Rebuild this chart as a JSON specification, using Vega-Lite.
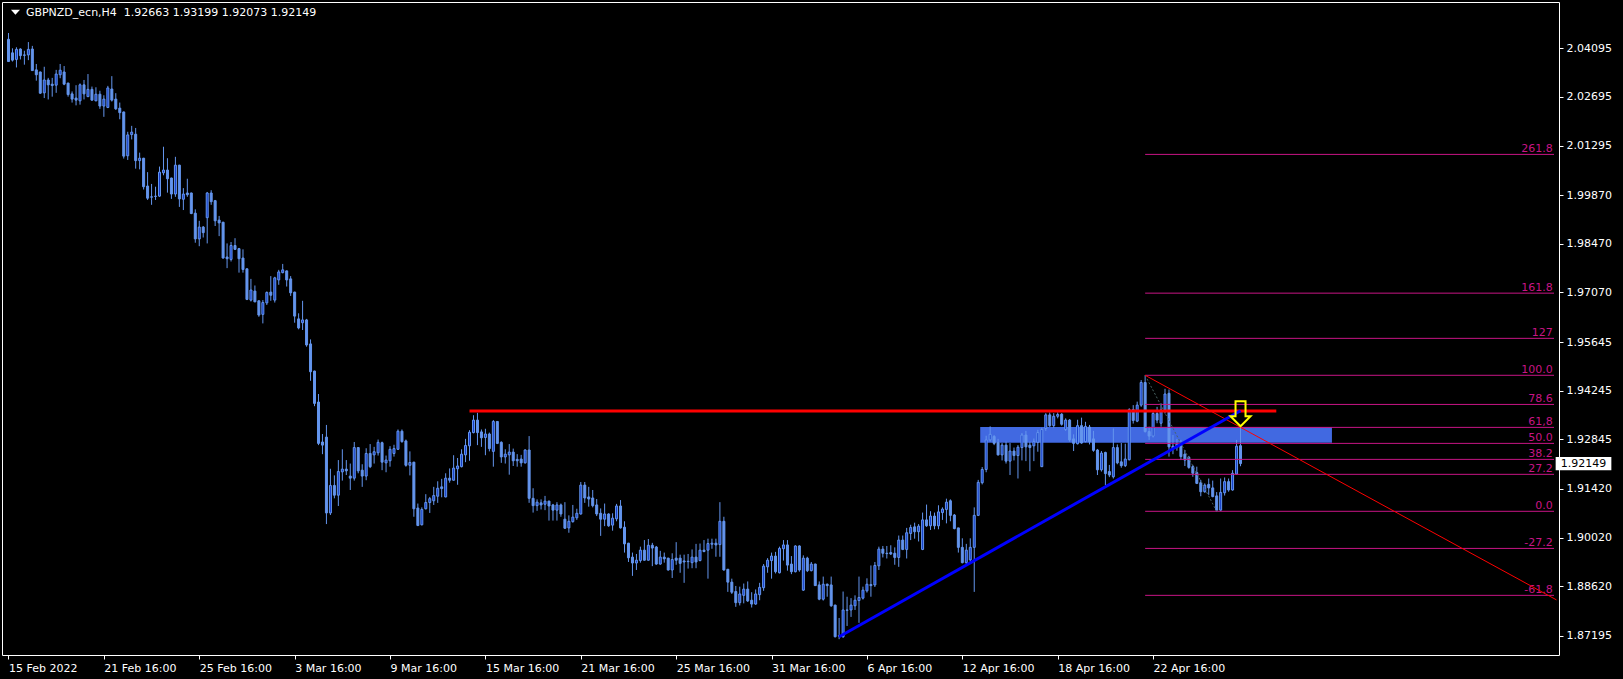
{
"$schema": "https://vega.github.io/schema/vega-lite/v6.json",
"width": 1557, "height": 653,
"autosize": {"type": "none"},
"padding": {"left": 2, "top": 2, "right": 64, "bottom": 24},
"background": "#000000",
"config": {"view": {"stroke": "#ffffff", "strokeWidth": 1}, "font": "DejaVu Sans"},
"datasets": {
"candles": [
{"i":0,"o":2.0435,"h":2.0453,"l":2.0370,"c":2.0371},
{"i":1,"o":2.0396,"h":2.0409,"l":2.0371,"c":2.0375},
{"i":2,"o":2.0377,"h":2.0412,"l":2.0354,"c":2.0406},
{"i":3,"o":2.0407,"h":2.0409,"l":2.0377,"c":2.0388},
{"i":4,"o":2.0390,"h":2.0402,"l":2.0362,"c":2.0389},
{"i":5,"o":2.0390,"h":2.0427,"l":2.0375,"c":2.0406},
{"i":6,"o":2.0407,"h":2.0416,"l":2.0344,"c":2.0345},
{"i":7,"o":2.0347,"h":2.0364,"l":2.0316,"c":2.0333},
{"i":8,"o":2.0341,"h":2.0342,"l":2.0278,"c":2.0280},
{"i":9,"o":2.0281,"h":2.0356,"l":2.0266,"c":2.0318},
{"i":10,"o":2.0318,"h":2.0324,"l":2.0262,"c":2.0304},
{"i":11,"o":2.0306,"h":2.0324,"l":2.0270,"c":2.0302},
{"i":12,"o":2.0303,"h":2.0347,"l":2.0281,"c":2.0335},
{"i":13,"o":2.0333,"h":2.0364,"l":2.0323,"c":2.0346},
{"i":14,"o":2.0341,"h":2.0358,"l":2.0303,"c":2.0306},
{"i":15,"o":2.0309,"h":2.0310,"l":2.0270,"c":2.0276},
{"i":16,"o":2.0278,"h":2.0285,"l":2.0253,"c":2.0263},
{"i":17,"o":2.0266,"h":2.0303,"l":2.0245,"c":2.0260},
{"i":18,"o":2.0258,"h":2.0308,"l":2.0247,"c":2.0304},
{"i":19,"o":2.0304,"h":2.0318,"l":2.0262,"c":2.0278},
{"i":20,"o":2.0270,"h":2.0335,"l":2.0269,"c":2.0291},
{"i":21,"o":2.0291,"h":2.0299,"l":2.0258,"c":2.0260},
{"i":22,"o":2.0258,"h":2.0297,"l":2.0257,"c":2.0277},
{"i":23,"o":2.0277,"h":2.0287,"l":2.0235,"c":2.0243},
{"i":24,"o":2.0243,"h":2.0274,"l":2.0212,"c":2.0263},
{"i":25,"o":2.0239,"h":2.0301,"l":2.0237,"c":2.0295},
{"i":26,"o":2.0292,"h":2.0329,"l":2.0256,"c":2.0260},
{"i":27,"o":2.0263,"h":2.0280,"l":2.0232,"c":2.0235},
{"i":28,"o":2.0237,"h":2.0253,"l":2.0205,"c":2.0224},
{"i":29,"o":2.0226,"h":2.0227,"l":2.0092,"c":2.0099},
{"i":30,"o":2.0100,"h":2.0169,"l":2.0088,"c":2.0160},
{"i":31,"o":2.0161,"h":2.0186,"l":2.0147,"c":2.0168},
{"i":32,"o":2.0162,"h":2.0180,"l":2.0063,"c":2.0086},
{"i":33,"o":2.0086,"h":2.0109,"l":2.0061,"c":2.0093},
{"i":34,"o":2.0093,"h":2.0094,"l":2.0003,"c":2.0011},
{"i":35,"o":2.0013,"h":2.0053,"l":1.9973,"c":1.9978},
{"i":36,"o":1.9982,"h":2.0019,"l":1.9959,"c":1.9981},
{"i":37,"o":1.9983,"h":2.0011,"l":1.9973,"c":1.9984},
{"i":38,"o":1.9984,"h":2.0069,"l":1.9982,"c":2.0053},
{"i":39,"o":2.0051,"h":2.0126,"l":2.0044,"c":2.0059},
{"i":40,"o":2.0059,"h":2.0093,"l":1.9994,"c":2.0034},
{"i":41,"o":2.0036,"h":2.0037,"l":1.9976,"c":1.9990},
{"i":42,"o":1.9990,"h":2.0097,"l":1.9982,"c":2.0073},
{"i":43,"o":2.0073,"h":2.0074,"l":1.9953,"c":1.9976},
{"i":44,"o":1.9975,"h":2.0007,"l":1.9944,"c":1.9990},
{"i":45,"o":1.9993,"h":2.0034,"l":1.9982,"c":1.9988},
{"i":46,"o":1.9993,"h":1.9994,"l":1.9932,"c":1.9934},
{"i":47,"o":1.9935,"h":1.9946,"l":1.9850,"c":1.9861},
{"i":48,"o":1.9861,"h":1.9913,"l":1.9840,"c":1.9895},
{"i":49,"o":1.9895,"h":1.9898,"l":1.9865,"c":1.9879},
{"i":50,"o":1.9922,"h":1.9996,"l":1.9848,"c":1.9993},
{"i":51,"o":1.9993,"h":2.0001,"l":1.9959,"c":1.9968},
{"i":52,"o":1.9971,"h":1.9973,"l":1.9898,"c":1.9913},
{"i":53,"o":1.9915,"h":1.9927,"l":1.9869,"c":1.9907},
{"i":54,"o":1.9909,"h":1.9910,"l":1.9804,"c":1.9806},
{"i":55,"o":1.9809,"h":1.9848,"l":1.9777,"c":1.9804},
{"i":56,"o":1.9802,"h":1.9852,"l":1.9796,"c":1.9842},
{"i":57,"o":1.9842,"h":1.9863,"l":1.9829,"c":1.9831},
{"i":58,"o":1.9833,"h":1.9835,"l":1.9764,"c":1.9804},
{"i":59,"o":1.9806,"h":1.9831,"l":1.9764,"c":1.9773},
{"i":60,"o":1.9775,"h":1.9776,"l":1.9685,"c":1.9687},
{"i":61,"o":1.9685,"h":1.9746,"l":1.9681,"c":1.9714},
{"i":62,"o":1.9711,"h":1.9727,"l":1.9679,"c":1.9680},
{"i":63,"o":1.9683,"h":1.9684,"l":1.9637,"c":1.9642},
{"i":64,"o":1.9644,"h":1.9685,"l":1.9618,"c":1.9678},
{"i":65,"o":1.9677,"h":1.9710,"l":1.9671,"c":1.9707},
{"i":66,"o":1.9708,"h":1.9754,"l":1.9683,"c":1.9699},
{"i":67,"o":1.9685,"h":1.9752,"l":1.9678,"c":1.9749},
{"i":68,"o":1.9743,"h":1.9772,"l":1.9729,"c":1.9766},
{"i":69,"o":1.9764,"h":1.9789,"l":1.9762,"c":1.9772},
{"i":70,"o":1.9769,"h":1.9770,"l":1.9724,"c":1.9743},
{"i":71,"o":1.9746,"h":1.9754,"l":1.9697,"c":1.9706},
{"i":72,"o":1.9708,"h":1.9709,"l":1.9620,"c":1.9639},
{"i":73,"o":1.9631,"h":1.9647,"l":1.9601,"c":1.9605},
{"i":74,"o":1.9620,"h":1.9683,"l":1.9599,"c":1.9628},
{"i":75,"o":1.9628,"h":1.9631,"l":1.9551,"c":1.9556},
{"i":76,"o":1.9559,"h":1.9572,"l":1.9453,"c":1.9479},
{"i":77,"o":1.9481,"h":1.9482,"l":1.9380,"c":1.9388},
{"i":78,"o":1.9392,"h":1.9415,"l":1.9268,"c":1.9273},
{"i":79,"o":1.9277,"h":1.9300,"l":1.9242,"c":1.9268},
{"i":80,"o":1.9291,"h":1.9326,"l":1.9041,"c":1.9073},
{"i":81,"o":1.9073,"h":1.9200,"l":1.9067,"c":1.9152},
{"i":82,"o":1.9152,"h":1.9181,"l":1.9115,"c":1.9124},
{"i":83,"o":1.9124,"h":1.9225,"l":1.9093,"c":1.9192},
{"i":84,"o":1.9191,"h":1.9256,"l":1.9166,"c":1.9199},
{"i":85,"o":1.9199,"h":1.9225,"l":1.9182,"c":1.9194},
{"i":86,"o":1.9179,"h":1.9215,"l":1.9139,"c":1.9173},
{"i":87,"o":1.9173,"h":1.9277,"l":1.9166,"c":1.9261},
{"i":88,"o":1.9261,"h":1.9262,"l":1.9187,"c":1.9194},
{"i":89,"o":1.9196,"h":1.9213,"l":1.9148,"c":1.9179},
{"i":90,"o":1.9179,"h":1.9259,"l":1.9167,"c":1.9244},
{"i":91,"o":1.9244,"h":1.9271,"l":1.9202,"c":1.9206},
{"i":92,"o":1.9240,"h":1.9263,"l":1.9215,"c":1.9249},
{"i":93,"o":1.9246,"h":1.9284,"l":1.9238,"c":1.9276},
{"i":94,"o":1.9275,"h":1.9278,"l":1.9196,"c":1.9219},
{"i":95,"o":1.9217,"h":1.9238,"l":1.9190,"c":1.9225},
{"i":96,"o":1.9223,"h":1.9265,"l":1.9206,"c":1.9256},
{"i":97,"o":1.9244,"h":1.9269,"l":1.9235,"c":1.9258},
{"i":98,"o":1.9256,"h":1.9313,"l":1.9254,"c":1.9308},
{"i":99,"o":1.9308,"h":1.9313,"l":1.9275,"c":1.9278},
{"i":100,"o":1.9280,"h":1.9284,"l":1.9206,"c":1.9210},
{"i":101,"o":1.9210,"h":1.9250,"l":1.9181,"c":1.9218},
{"i":102,"o":1.9219,"h":1.9220,"l":1.9062,"c":1.9085},
{"i":103,"o":1.9087,"h":1.9100,"l":1.9035,"c":1.9037},
{"i":104,"o":1.9039,"h":1.9089,"l":1.9037,"c":1.9083},
{"i":105,"o":1.9085,"h":1.9127,"l":1.9083,"c":1.9103},
{"i":106,"o":1.9103,"h":1.9119,"l":1.9073,"c":1.9114},
{"i":107,"o":1.9108,"h":1.9148,"l":1.9096,"c":1.9123},
{"i":108,"o":1.9121,"h":1.9164,"l":1.9102,"c":1.9144},
{"i":109,"o":1.9148,"h":1.9171,"l":1.9118,"c":1.9143},
{"i":110,"o":1.9119,"h":1.9187,"l":1.9118,"c":1.9173},
{"i":111,"o":1.9173,"h":1.9201,"l":1.9160,"c":1.9167},
{"i":112,"o":1.9167,"h":1.9239,"l":1.9166,"c":1.9202},
{"i":113,"o":1.9200,"h":1.9231,"l":1.9154,"c":1.9208},
{"i":114,"o":1.9206,"h":1.9256,"l":1.9204,"c":1.9242},
{"i":115,"o":1.9240,"h":1.9286,"l":1.9219,"c":1.9267},
{"i":116,"o":1.9266,"h":1.9311,"l":1.9223,"c":1.9305},
{"i":117,"o":1.9304,"h":1.9354,"l":1.9302,"c":1.9340},
{"i":118,"o":1.9340,"h":1.9361,"l":1.9268,"c":1.9304},
{"i":119,"o":1.9306,"h":1.9313,"l":1.9263,"c":1.9289},
{"i":120,"o":1.9290,"h":1.9315,"l":1.9239,"c":1.9300},
{"i":121,"o":1.9300,"h":1.9304,"l":1.9250,"c":1.9258},
{"i":122,"o":1.9250,"h":1.9340,"l":1.9206,"c":1.9336},
{"i":123,"o":1.9336,"h":1.9337,"l":1.9271,"c":1.9273},
{"i":124,"o":1.9276,"h":1.9279,"l":1.9217,"c":1.9234},
{"i":125,"o":1.9234,"h":1.9256,"l":1.9215,"c":1.9242},
{"i":126,"o":1.9240,"h":1.9271,"l":1.9183,"c":1.9248},
{"i":127,"o":1.9248,"h":1.9258,"l":1.9208,"c":1.9223},
{"i":128,"o":1.9227,"h":1.9242,"l":1.9206,"c":1.9223},
{"i":129,"o":1.9228,"h":1.9240,"l":1.9206,"c":1.9217},
{"i":130,"o":1.9217,"h":1.9256,"l":1.9215,"c":1.9254},
{"i":131,"o":1.9254,"h":1.9294,"l":1.9102,"c":1.9115},
{"i":132,"o":1.9115,"h":1.9144,"l":1.9074,"c":1.9094},
{"i":133,"o":1.9094,"h":1.9112,"l":1.9079,"c":1.9104},
{"i":134,"o":1.9102,"h":1.9112,"l":1.9083,"c":1.9096},
{"i":135,"o":1.9098,"h":1.9122,"l":1.9081,"c":1.9107},
{"i":136,"o":1.9107,"h":1.9108,"l":1.9051,"c":1.9093},
{"i":137,"o":1.9096,"h":1.9099,"l":1.9051,"c":1.9081},
{"i":138,"o":1.9081,"h":1.9104,"l":1.9051,"c":1.9096},
{"i":139,"o":1.9096,"h":1.9100,"l":1.9062,"c":1.9070},
{"i":140,"o":1.9055,"h":1.9104,"l":1.9027,"c":1.9029},
{"i":141,"o":1.9030,"h":1.9066,"l":1.9016,"c":1.9049},
{"i":142,"o":1.9048,"h":1.9096,"l":1.9045,"c":1.9061},
{"i":143,"o":1.9059,"h":1.9085,"l":1.9053,"c":1.9072},
{"i":144,"o":1.9070,"h":1.9162,"l":1.9068,"c":1.9153},
{"i":145,"o":1.9153,"h":1.9162,"l":1.9102,"c":1.9116},
{"i":146,"o":1.9119,"h":1.9148,"l":1.9091,"c":1.9113},
{"i":147,"o":1.9116,"h":1.9139,"l":1.9089,"c":1.9094},
{"i":148,"o":1.9096,"h":1.9113,"l":1.9064,"c":1.9070},
{"i":149,"o":1.9072,"h":1.9086,"l":1.9007,"c":1.9055},
{"i":150,"o":1.9055,"h":1.9100,"l":1.9035,"c":1.9070},
{"i":151,"o":1.9070,"h":1.9072,"l":1.9033,"c":1.9036},
{"i":152,"o":1.9038,"h":1.9072,"l":1.9022,"c":1.9058},
{"i":153,"o":1.9056,"h":1.9099,"l":1.9049,"c":1.9093},
{"i":154,"o":1.9093,"h":1.9110,"l":1.9028,"c":1.9030},
{"i":155,"o":1.9032,"h":1.9049,"l":1.8959,"c":1.8984},
{"i":156,"o":1.8986,"h":1.8987,"l":1.8932,"c":1.8944},
{"i":157,"o":1.8946,"h":1.8959,"l":1.8892,"c":1.8929},
{"i":158,"o":1.8929,"h":1.8955,"l":1.8909,"c":1.8937},
{"i":159,"o":1.8936,"h":1.8976,"l":1.8930,"c":1.8966},
{"i":160,"o":1.8966,"h":1.8995,"l":1.8936,"c":1.8937},
{"i":161,"o":1.8937,"h":1.8998,"l":1.8936,"c":1.8980},
{"i":162,"o":1.8980,"h":1.8987,"l":1.8920,"c":1.8972},
{"i":163,"o":1.8975,"h":1.8978,"l":1.8924,"c":1.8926},
{"i":164,"o":1.8926,"h":1.8964,"l":1.8924,"c":1.8946},
{"i":165,"o":1.8946,"h":1.8959,"l":1.8930,"c":1.8941},
{"i":166,"o":1.8943,"h":1.8944,"l":1.8907,"c":1.8909},
{"i":167,"o":1.8909,"h":1.8957,"l":1.8886,"c":1.8939},
{"i":168,"o":1.8943,"h":1.8989,"l":1.8924,"c":1.8937},
{"i":169,"o":1.8943,"h":1.8953,"l":1.8901,"c":1.8928},
{"i":170,"o":1.8935,"h":1.8953,"l":1.8872,"c":1.8932},
{"i":171,"o":1.8934,"h":1.8955,"l":1.8913,"c":1.8933},
{"i":172,"o":1.8930,"h":1.8968,"l":1.8914,"c":1.8946},
{"i":173,"o":1.8946,"h":1.8984,"l":1.8914,"c":1.8932},
{"i":174,"o":1.8936,"h":1.8985,"l":1.8934,"c":1.8966},
{"i":175,"o":1.8966,"h":1.8995,"l":1.8960,"c":1.8962},
{"i":176,"o":1.8966,"h":1.8999,"l":1.8884,"c":1.8985},
{"i":177,"o":1.8983,"h":1.8999,"l":1.8970,"c":1.8986},
{"i":178,"o":1.8986,"h":1.8999,"l":1.8947,"c":1.8981},
{"i":179,"o":1.8982,"h":1.9104,"l":1.8947,"c":1.9049},
{"i":180,"o":1.9049,"h":1.9062,"l":1.8907,"c":1.8909},
{"i":181,"o":1.8911,"h":1.8912,"l":1.8846,"c":1.8874},
{"i":182,"o":1.8874,"h":1.8884,"l":1.8840,"c":1.8845},
{"i":183,"o":1.8847,"h":1.8863,"l":1.8803,"c":1.8815},
{"i":184,"o":1.8815,"h":1.8861,"l":1.8807,"c":1.8840},
{"i":185,"o":1.8836,"h":1.8870,"l":1.8813,"c":1.8854},
{"i":186,"o":1.8854,"h":1.8876,"l":1.8817,"c":1.8820},
{"i":187,"o":1.8822,"h":1.8845,"l":1.8801,"c":1.8811},
{"i":188,"o":1.8811,"h":1.8853,"l":1.8809,"c":1.8840},
{"i":189,"o":1.8838,"h":1.8872,"l":1.8822,"c":1.8859},
{"i":190,"o":1.8858,"h":1.8926,"l":1.8849,"c":1.8920},
{"i":191,"o":1.8918,"h":1.8943,"l":1.8901,"c":1.8937},
{"i":192,"o":1.8936,"h":1.8959,"l":1.8884,"c":1.8949},
{"i":193,"o":1.8949,"h":1.8961,"l":1.8899,"c":1.8904},
{"i":194,"o":1.8901,"h":1.8976,"l":1.8899,"c":1.8971},
{"i":195,"o":1.8970,"h":1.8995,"l":1.8936,"c":1.8981},
{"i":196,"o":1.8981,"h":1.8995,"l":1.8907,"c":1.8923},
{"i":197,"o":1.8926,"h":1.8949,"l":1.8897,"c":1.8904},
{"i":198,"o":1.8904,"h":1.8980,"l":1.8902,"c":1.8978},
{"i":199,"o":1.8978,"h":1.8980,"l":1.8904,"c":1.8909},
{"i":200,"o":1.8851,"h":1.8951,"l":1.8849,"c":1.8943},
{"i":201,"o":1.8943,"h":1.8947,"l":1.8903,"c":1.8907},
{"i":202,"o":1.8907,"h":1.8932,"l":1.8905,"c":1.8926},
{"i":203,"o":1.8926,"h":1.8927,"l":1.8863,"c":1.8864},
{"i":204,"o":1.8866,"h":1.8876,"l":1.8822,"c":1.8825},
{"i":205,"o":1.8825,"h":1.8890,"l":1.8821,"c":1.8868},
{"i":206,"o":1.8868,"h":1.8870,"l":1.8832,"c":1.8864},
{"i":207,"o":1.8866,"h":1.8890,"l":1.8803,"c":1.8806},
{"i":208,"o":1.8808,"h":1.8809,"l":1.8715,"c":1.8717},
{"i":209,"o":1.8719,"h":1.8771,"l":1.8710,"c":1.8720},
{"i":210,"o":1.8717,"h":1.8847,"l":1.8714,"c":1.8794},
{"i":211,"o":1.8793,"h":1.8832,"l":1.8748,"c":1.8794},
{"i":212,"o":1.8794,"h":1.8828,"l":1.8774,"c":1.8808},
{"i":213,"o":1.8806,"h":1.8836,"l":1.8794,"c":1.8822},
{"i":214,"o":1.8821,"h":1.8890,"l":1.8757,"c":1.8830},
{"i":215,"o":1.8828,"h":1.8861,"l":1.8824,"c":1.8851},
{"i":216,"o":1.8849,"h":1.8885,"l":1.8844,"c":1.8868},
{"i":217,"o":1.8867,"h":1.8922,"l":1.8832,"c":1.8864},
{"i":218,"o":1.8866,"h":1.8932,"l":1.8860,"c":1.8922},
{"i":219,"o":1.8921,"h":1.8976,"l":1.8909,"c":1.8969},
{"i":220,"o":1.8969,"h":1.8978,"l":1.8945,"c":1.8957},
{"i":221,"o":1.8957,"h":1.8978,"l":1.8942,"c":1.8956},
{"i":222,"o":1.8959,"h":1.8980,"l":1.8952,"c":1.8955},
{"i":223,"o":1.8957,"h":1.8974,"l":1.8924,"c":1.8945},
{"i":224,"o":1.8945,"h":1.9008,"l":1.8918,"c":1.8995},
{"i":225,"o":1.8995,"h":1.9008,"l":1.8966,"c":1.8968},
{"i":226,"o":1.8968,"h":1.9030,"l":1.8942,"c":1.9016},
{"i":227,"o":1.9014,"h":1.9039,"l":1.8995,"c":1.9031},
{"i":228,"o":1.9033,"h":1.9045,"l":1.8999,"c":1.9019},
{"i":229,"o":1.9019,"h":1.9041,"l":1.8991,"c":1.9035},
{"i":230,"o":1.8968,"h":1.9074,"l":1.8966,"c":1.9053},
{"i":231,"o":1.9053,"h":1.9097,"l":1.9033,"c":1.9036},
{"i":232,"o":1.9036,"h":1.9078,"l":1.9024,"c":1.9064},
{"i":233,"o":1.9064,"h":1.9074,"l":1.9026,"c":1.9036},
{"i":234,"o":1.9036,"h":1.9095,"l":1.9026,"c":1.9076},
{"i":235,"o":1.9074,"h":1.9089,"l":1.9053,"c":1.9084},
{"i":236,"o":1.9083,"h":1.9114,"l":1.9043,"c":1.9104},
{"i":237,"o":1.9108,"h":1.9112,"l":1.9049,"c":1.9066},
{"i":238,"o":1.9067,"h":1.9070,"l":1.9026,"c":1.9028},
{"i":239,"o":1.9030,"h":1.9030,"l":1.8959,"c":1.8974},
{"i":240,"o":1.8974,"h":1.9000,"l":1.8928,"c":1.8930},
{"i":241,"o":1.8930,"h":1.8984,"l":1.8926,"c":1.8966},
{"i":242,"o":1.8938,"h":1.9000,"l":1.8928,"c":1.8974},
{"i":243,"o":1.8974,"h":1.9089,"l":1.8846,"c":1.9066},
{"i":244,"o":1.9066,"h":1.9168,"l":1.9064,"c":1.9161},
{"i":245,"o":1.9160,"h":1.9205,"l":1.9155,"c":1.9198},
{"i":246,"o":1.9198,"h":1.9295,"l":1.9190,"c":1.9283},
{"i":247,"o":1.9283,"h":1.9322,"l":1.9278,"c":1.9299},
{"i":248,"o":1.9293,"h":1.9297,"l":1.9268,"c":1.9273},
{"i":249,"o":1.9275,"h":1.9286,"l":1.9238,"c":1.9240},
{"i":250,"o":1.9240,"h":1.9274,"l":1.9224,"c":1.9268},
{"i":251,"o":1.9268,"h":1.9278,"l":1.9215,"c":1.9222},
{"i":252,"o":1.9222,"h":1.9274,"l":1.9182,"c":1.9251},
{"i":253,"o":1.9251,"h":1.9261,"l":1.9224,"c":1.9238},
{"i":254,"o":1.9238,"h":1.9268,"l":1.9172,"c":1.9262},
{"i":255,"o":1.9261,"h":1.9303,"l":1.9224,"c":1.9297},
{"i":256,"o":1.9297,"h":1.9309,"l":1.9222,"c":1.9263},
{"i":257,"o":1.9268,"h":1.9278,"l":1.9193,"c":1.9261},
{"i":258,"o":1.9266,"h":1.9287,"l":1.9222,"c":1.9278},
{"i":259,"o":1.9276,"h":1.9312,"l":1.9249,"c":1.9304},
{"i":260,"o":1.9206,"h":1.9318,"l":1.9205,"c":1.9313},
{"i":261,"o":1.9316,"h":1.9360,"l":1.9309,"c":1.9355},
{"i":262,"o":1.9355,"h":1.9362,"l":1.9320,"c":1.9324},
{"i":263,"o":1.9324,"h":1.9360,"l":1.9318,"c":1.9351},
{"i":264,"o":1.9351,"h":1.9362,"l":1.9345,"c":1.9356},
{"i":265,"o":1.9357,"h":1.9360,"l":1.9324,"c":1.9328},
{"i":266,"o":1.9313,"h":1.9345,"l":1.9309,"c":1.9340},
{"i":267,"o":1.9340,"h":1.9343,"l":1.9278,"c":1.9283},
{"i":268,"o":1.9286,"h":1.9299,"l":1.9251,"c":1.9273},
{"i":269,"o":1.9272,"h":1.9341,"l":1.9270,"c":1.9324},
{"i":270,"o":1.9324,"h":1.9347,"l":1.9272,"c":1.9274},
{"i":271,"o":1.9278,"h":1.9335,"l":1.9276,"c":1.9322},
{"i":272,"o":1.9320,"h":1.9326,"l":1.9270,"c":1.9278},
{"i":273,"o":1.9286,"h":1.9309,"l":1.9249,"c":1.9253},
{"i":274,"o":1.9254,"h":1.9257,"l":1.9182,"c":1.9197},
{"i":275,"o":1.9197,"h":1.9251,"l":1.9192,"c":1.9245},
{"i":276,"o":1.9247,"h":1.9249,"l":1.9153,"c":1.9186},
{"i":277,"o":1.9192,"h":1.9211,"l":1.9176,"c":1.9182},
{"i":278,"o":1.9177,"h":1.9316,"l":1.9172,"c":1.9261},
{"i":279,"o":1.9261,"h":1.9270,"l":1.9213,"c":1.9217},
{"i":280,"o":1.9220,"h":1.9274,"l":1.9203,"c":1.9209},
{"i":281,"o":1.9209,"h":1.9272,"l":1.9205,"c":1.9228},
{"i":282,"o":1.9226,"h":1.9374,"l":1.9224,"c":1.9370},
{"i":283,"o":1.9370,"h":1.9383,"l":1.9330,"c":1.9339},
{"i":284,"o":1.9337,"h":1.9393,"l":1.9334,"c":1.9383},
{"i":285,"o":1.9383,"h":1.9455,"l":1.9378,"c":1.9448},
{"i":286,"o":1.9448,"h":1.9469,"l":1.9304,"c":1.9307},
{"i":287,"o":1.9307,"h":1.9321,"l":1.9283,"c":1.9294},
{"i":288,"o":1.9294,"h":1.9369,"l":1.9290,"c":1.9359},
{"i":289,"o":1.9359,"h":1.9378,"l":1.9331,"c":1.9340},
{"i":290,"o":1.9331,"h":1.9388,"l":1.9321,"c":1.9369},
{"i":291,"o":1.9369,"h":1.9430,"l":1.9359,"c":1.9415},
{"i":292,"o":1.9417,"h":1.9428,"l":1.9235,"c":1.9263},
{"i":293,"o":1.9265,"h":1.9297,"l":1.9242,"c":1.9259},
{"i":294,"o":1.9261,"h":1.9286,"l":1.9252,"c":1.9271},
{"i":295,"o":1.9273,"h":1.9283,"l":1.9225,"c":1.9235},
{"i":296,"o":1.9242,"h":1.9254,"l":1.9208,"c":1.9225},
{"i":297,"o":1.9233,"h":1.9237,"l":1.9200,"c":1.9204},
{"i":298,"o":1.9206,"h":1.9211,"l":1.9177,"c":1.9187},
{"i":299,"o":1.9189,"h":1.9206,"l":1.9156,"c":1.9158},
{"i":300,"o":1.9160,"h":1.9168,"l":1.9121,"c":1.9134},
{"i":301,"o":1.9134,"h":1.9158,"l":1.9131,"c":1.9153},
{"i":302,"o":1.9155,"h":1.9172,"l":1.9125,"c":1.9145},
{"i":303,"o":1.9145,"h":1.9166,"l":1.9118,"c":1.9120},
{"i":304,"o":1.9122,"h":1.9133,"l":1.9077,"c":1.9081},
{"i":305,"o":1.9081,"h":1.9172,"l":1.9079,"c":1.9132},
{"i":306,"o":1.9131,"h":1.9175,"l":1.9123,"c":1.9163},
{"i":307,"o":1.9163,"h":1.9172,"l":1.9134,"c":1.9139},
{"i":308,"o":1.9139,"h":1.9196,"l":1.9137,"c":1.9187},
{"i":309,"o":1.9185,"h":1.9283,"l":1.9183,"c":1.9265},
{"i":310,"o":1.92663,"h":1.93199,"l":1.92073,"c":1.92149}
],
"fib": [
{"level":"261.8","price":2.0104},
{"level":"161.8","price":1.9705},
{"level":"127","price":1.9575},
{"level":"100.0","price":1.94688},
{"level":"78.6","price":1.9385},
{"level":"61,8","price":1.9319},
{"level":"50.0","price":1.9273},
{"level":"38.2","price":1.9227},
{"level":"27.2","price":1.9184},
{"level":"0.0","price":1.90777},
{"level":"-27.2","price":1.8971},
{"level":"-61.8","price":1.8836}
],
"lines": [
{"id":"resistance","i1":116,"p1":1.9366,"i2":319,"p2":1.9366},
{"id":"trend","i1":209,"p1":1.8717,"i2":310,"p2":1.9367},
{"id":"ray","i1":286,"p1":1.94688,"i2":389.5,"p2":1.8823},
{"id":"fibdiag","i1":286,"p1":1.94688,"i2":304,"p2":1.90777}
],
"zone": [{"i1":244.5,"i2":333,"top":1.9320,"bottom":1.9275}],
"arrow": [{"i":310,"price":1.9358}],
"bid": [{"price":1.92149,"label":"1.92149"}],
"header": [{"label":"GBPNZD_ecn,H4\u00a0\u00a01.92663 1.93199 1.92073 1.92149"}]
},
"layer": [
{"data":{"name":"zone"},"mark":{"type":"rect","fill":"#4169e1"},
 "encoding":{
  "x":{"field":"i1","type":"quantitative","scale":{"domain":[-0.375,388.875],"nice":false,"zero":false},
   "axis":{"orient":"bottom","title":null,"values":[0,24,48,72,96,120,144,168,192,216,240,264,288],
    "labelExpr":"['15 Feb 2022','21 Feb 16:00','25 Feb 16:00','3 Mar 16:00','9 Mar 16:00','15 Mar 16:00','21 Mar 16:00','25 Mar 16:00','31 Mar 16:00','6 Apr 16:00','12 Apr 16:00','18 Apr 16:00','22 Apr 16:00'][round(datum.value/24)]",
    "domain":false,"grid":false,"ticks":true,"tickColor":"#ffffff","tickSize":4,"tickWidth":1,
    "labelColor":"#ffffff","labelFont":"DejaVu Sans","labelFontSize":11,"labelAlign":"left","labelBaseline":"top","labelPadding":3,
    "labelFlush":false,"labelOverlap":false}},
  "x2":{"field":"i2"},
  "y":{"field":"top","type":"quantitative","scale":{"domain":[1.86645,2.05422],"nice":false,"zero":false},
   "axis":{"orient":"right","title":null,"values":[1.87195,1.8862,1.9002,1.9142,1.92845,1.94245,1.95645,1.9707,1.9847,1.9987,2.01295,2.02695,2.04095],
    "format":".5f","domain":false,"grid":false,"ticks":true,"tickColor":"#ffffff","tickSize":4,"tickWidth":1,
    "labelColor":"#ffffff","labelFont":"DejaVu Sans","labelFontSize":11,"labelAlign":"left","labelBaseline":"middle","labelPadding":3,
    "labelFlush":false,"labelOverlap":false}},
  "y2":{"field":"bottom"}}},
{"data":{"name":"candles"},"mark":{"type":"rule","color":"#6495ed","strokeWidth":1},
 "encoding":{
  "x":{"field":"i","type":"quantitative","scale":{"domain":[-0.375,388.875],"nice":false,"zero":false}},
  "y":{"field":"l","type":"quantitative","scale":{"domain":[1.86645,2.05422],"nice":false,"zero":false}},
  "y2":{"field":"h"}}},
{"data":{"name":"candles"},"mark":{"type":"bar","orient":"vertical","size":2,"stroke":"#6495ed","strokeWidth":1},
 "encoding":{
  "x":{"field":"i","type":"quantitative","scale":{"domain":[-0.375,388.875],"nice":false,"zero":false}},
  "y":{"field":"o","type":"quantitative","scale":{"domain":[1.86645,2.05422],"nice":false,"zero":false}},
  "y2":{"field":"c"},
  "fill":{"condition":{"test":"datum.c > datum.o","value":"#143cc8"},"value":"#6495ed"}}},
{"data":{"name":"fib"},"mark":{"type":"rule","color":"#c71585","strokeWidth":1},
 "encoding":{"x":{"datum":286,"type":"quantitative"},"x2":{"datum":388.875},"y":{"field":"price","type":"quantitative"}}},
{"data":{"name":"fib"},"mark":{"type":"text","color":"#c71585","font":"DejaVu Sans","fontSize":11,"align":"right","baseline":"alphabetic","dy":-2},
 "encoding":{"x":{"datum":388.55,"type":"quantitative"},"y":{"field":"price","type":"quantitative"},"text":{"field":"level"}}},
{"data":{"name":"lines"},"transform":[{"filter":"datum.id == 'fibdiag'"}],"mark":{"type":"rule","color":"#4a6464","strokeWidth":1,"strokeDash":[2,2]},
 "encoding":{"x":{"field":"i1","type":"quantitative"},"x2":{"field":"i2"},"y":{"field":"p1","type":"quantitative"},"y2":{"field":"p2"}}},
{"data":{"name":"lines"},"transform":[{"filter":"datum.id == 'ray'"}],"mark":{"type":"rule","color":"#ff0000","strokeWidth":1,"clip":true},
 "encoding":{"x":{"field":"i1","type":"quantitative"},"x2":{"field":"i2"},"y":{"field":"p1","type":"quantitative"},"y2":{"field":"p2"}}},
{"data":{"name":"lines"},"transform":[{"filter":"datum.id == 'resistance'"}],"mark":{"type":"rule","color":"#ff0000","strokeWidth":3},
 "encoding":{"x":{"field":"i1","type":"quantitative"},"x2":{"field":"i2"},"y":{"field":"p1","type":"quantitative"},"y2":{"field":"p2"}}},
{"data":{"name":"lines"},"transform":[{"filter":"datum.id == 'trend'"}],"mark":{"type":"rule","color":"#0000ff","strokeWidth":3},
 "encoding":{"x":{"field":"i1","type":"quantitative"},"x2":{"field":"i2"},"y":{"field":"p1","type":"quantitative"},"y2":{"field":"p2"}}},
{"data":{"name":"arrow"},"mark":{"type":"point","shape":"M-0.4,-1L0.4,-1L0.4,0.2L0.8,0.2L0,1L-0.8,0.2L-0.4,0.2Z","size":625,"filled":false,"fill":null,"stroke":"#ffff00","strokeWidth":2,"opacity":1},
 "encoding":{"x":{"field":"i","type":"quantitative"},"y":{"field":"price","type":"quantitative"}}},
{"data":{"name":"header"},"mark":{"type":"point","shape":"M-1,-0.55L1,-0.55L0,0.55Z","size":81,"filled":true,"fill":"#ffffff","stroke":null,"opacity":1},
 "encoding":{"x":{"datum":1.75,"type":"quantitative"},"y":{"datum":2.05126,"type":"quantitative"}}},
{"data":{"name":"header"},"mark":{"type":"text","color":"#ffffff","font":"DejaVu Sans","fontSize":11,"align":"left","baseline":"middle"},
 "encoding":{"x":{"datum":4.375,"type":"quantitative"},"y":{"datum":2.05115,"type":"quantitative"},"text":{"field":"label"}}},
{"data":{"name":"bid"},"mark":{"type":"point","shape":"M-1,-0.24L1,-0.24L1,0.24L-1,0.24Z","size":3102,"filled":true,"fill":"#ffffff","stroke":null,"opacity":1},
 "encoding":{"x":{"datum":396.3,"type":"quantitative"},"y":{"field":"price","type":"quantitative"}}},
{"data":{"name":"bid"},"mark":{"type":"text","color":"#000000","font":"DejaVu Sans","fontSize":11,"align":"left","baseline":"middle"},
 "encoding":{"x":{"datum":390.6,"type":"quantitative"},"y":{"field":"price","type":"quantitative"},"text":{"field":"label"}}}
]
}
